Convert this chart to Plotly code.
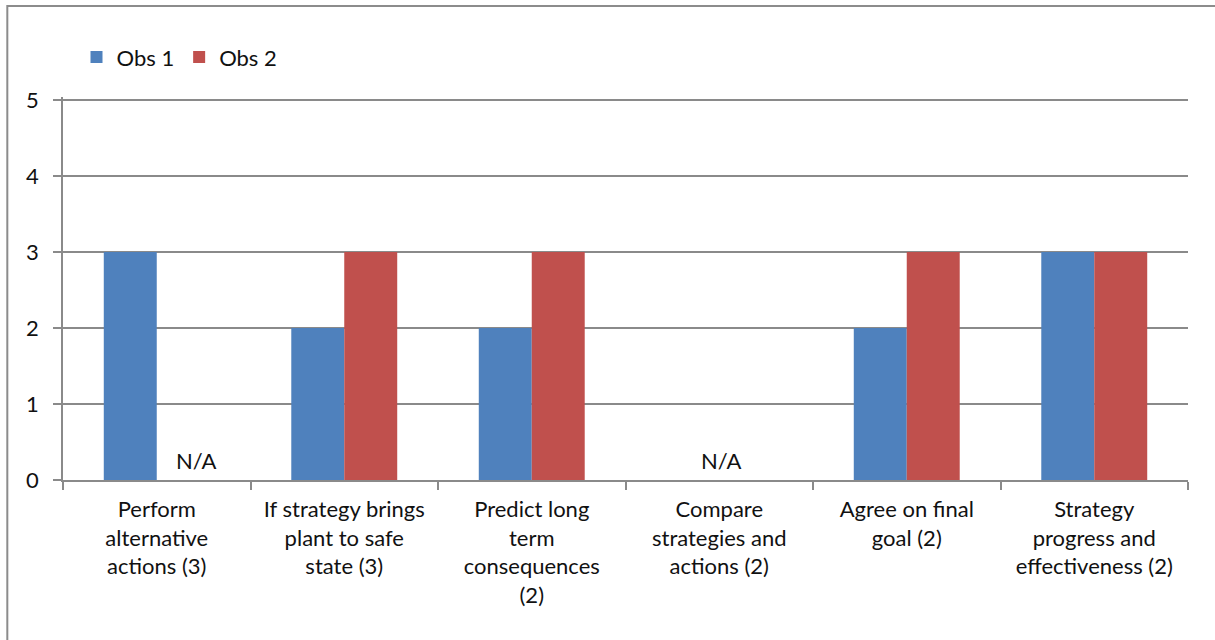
import plotly.graph_objects as go

categories = [
    "Perform<br>alternative<br>actions (3)",
    "If strategy brings<br>plant to safe<br>state (3)",
    "Predict long<br>term<br>consequences<br>(2)",
    "Compare<br>strategies and<br>actions (2)",
    "Agree on final<br>goal (2)",
    "Strategy<br>progress and<br>effectiveness (2)",
]
obs1 = [3, 2, 2, None, 2, 3]
obs2 = [None, 3, 3, None, 3, 3]
na_label = "N/A"

FONT = "Lato, 'Open Sans', sans-serif"
GRID = "#8a8a8a"
FS = 22

fig = go.Figure()
fig.add_trace(go.Bar(name="Obs 1", x=categories, y=obs1, marker_color="#4F81BD",
                     marker_line_width=0))
fig.add_trace(go.Bar(name="Obs 2", x=categories, y=obs2, marker_color="#C0504D",
                     marker_line_width=0))

# "N/A" notes for the observations without a score
fig.add_annotation(x=categories[0], y=0, text=na_label, showarrow=False,
                   yanchor="bottom", xshift=39, yshift=4,
                   font=dict(family=FONT, size=FS, color="#111"))
fig.add_annotation(x=categories[3], y=0, text=na_label, showarrow=False,
                   yanchor="bottom", xshift=2, yshift=4,
                   font=dict(family=FONT, size=FS, color="#111"))

# outer chart frame (left and top edges visible)
fig.add_shape(type="rect", xref="paper", yref="paper",
              x0=-0.0495, x1=1.2, y0=-1.0, y1=1.2376,
              line=dict(color="#8c8c8c", width=2), fillcolor="rgba(0,0,0,0)")

fig.update_layout(
    width=1215, height=640,
    margin=dict(l=63, r=27, t=97, b=160),
    paper_bgcolor="white", plot_bgcolor="white",
    barmode="group", bargap=0.435, bargroupgap=0,
    font=dict(family=FONT, size=FS, color="#111"),
    legend=dict(orientation="h", x=0.012, y=1.104, xanchor="left", yanchor="middle",
                font=dict(family=FONT, size=FS, color="#111"),
                bgcolor="rgba(0,0,0,0)", traceorder="normal"),
    xaxis=dict(showline=True, linecolor=GRID, linewidth=1.5,
               ticks="outside", tickson="boundaries", ticklen=8,
               tickcolor=GRID, tickwidth=1.5, showgrid=False,
               ticklabelstandoff=9,
               tickfont=dict(family=FONT, size=FS, color="#111"), tickangle=0),
    yaxis=dict(range=[0, 5 + 3 / 76], tickvals=[0, 1, 2, 3, 4, 5],
               showline=True, linecolor=GRID, linewidth=1.5,
               ticks="outside", ticklen=8, tickcolor=GRID, tickwidth=1.5,
               showgrid=True, gridcolor=GRID, gridwidth=1.5, zeroline=False,
               ticklabelstandoff=10,
               tickfont=dict(family=FONT, size=FS, color="#111")),
)

fig.write_html("out.html")
